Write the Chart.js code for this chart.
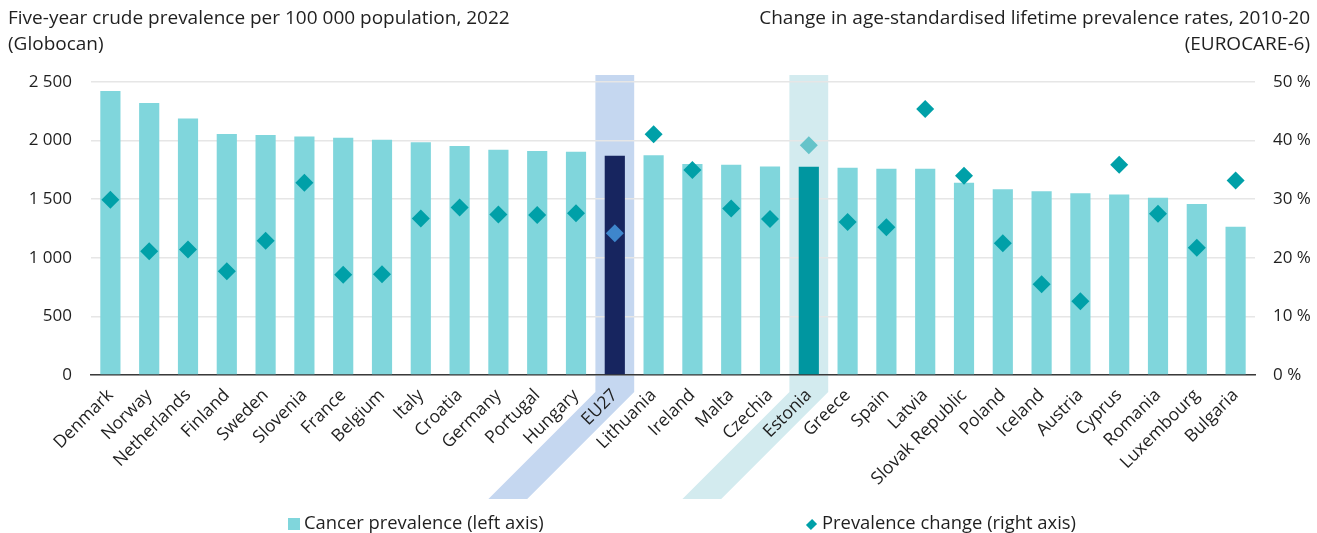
<!DOCTYPE html>
<html>
<head>
<meta charset="utf-8">
<title>Cancer prevalence</title>
<script src="https://cdn.jsdelivr.net/npm/chart.js@4.4.1/dist/chart.umd.min.js"></script>
<style>
  html, body { margin: 0; padding: 0; background: #fff; }
  body { font-family: 'Open Sans', sans-serif; color: #1f1f1f; }
  .wrap { position: relative; width: 1317px; height: 533px; overflow: hidden; }
  #prevChart { position: absolute; left: 0; top: 0; }
  .sub { position: absolute; top: 5px; font-size: 19px; line-height: 25.5px; }
  .sub.left { left: 8px; }
  .sub.right { right: 7px; text-align: right; }
  .legend { position: absolute; top: 510px; font-size: 18.4px; line-height: 24px; }
  .legend .sq { display: inline-block; width: 12px; height: 12px; background: #80d6dc;
    vertical-align: -1px; margin-right: 4px; }
  .legend .dm { display: inline-block; width: 7px; height: 7px; background: #00a0a8;
    transform: rotate(45deg) scaleY(1.25); vertical-align: 1px; margin-right: 7px; margin-left: 1px; }
</style>
</head>
<body>
<div class="wrap">
  <canvas id="prevChart" width="1317" height="533"></canvas>
  <div class="sub left">Five-year crude prevalence per 100 000 population, 2022<br>(Globocan)</div>
  <div class="sub right">Change in age-standardised lifetime prevalence rates, 2010-20<br>(EUROCARE-6)</div>
  <div class="legend" style="left:288px"><span class="sq"></span>Cancer prevalence (left axis)</div>
  <div class="legend" style="left:807px"><span class="dm"></span>Prevalence change (right axis)</div>
</div>
<script>
// Countries, sorted by five-year crude prevalence
var countries = ['Denmark', 'Norway', 'Netherlands', 'Finland', 'Sweden', 'Slovenia', 'France',
  'Belgium', 'Italy', 'Croatia', 'Germany', 'Portugal', 'Hungary', 'EU27', 'Lithuania', 'Ireland',
  'Malta', 'Czechia', 'Estonia', 'Greece', 'Spain', 'Latvia', 'Slovak Republic', 'Poland',
  'Iceland', 'Austria', 'Cyprus', 'Romania', 'Luxembourg', 'Bulgaria'];

// Five-year crude prevalence per 100 000 (left axis)
var prevalence = [2423, 2321, 2189, 2056, 2048, 2036, 2025, 2008, 1985, 1954, 1922, 1911, 1905,
  1871, 1874, 1800, 1794, 1780, 1777, 1769, 1760, 1760, 1641, 1584, 1567, 1550, 1541, 1513,
  1459, 1265];

// Change in lifetime prevalence 2010-20, % (right axis)
var prevChange = [29.9, 21.1, 21.4, 17.7, 22.9, 32.8, 17.1, 17.2, 26.7, 28.6, 27.4, 27.3, 27.6,
  24.2, 41.1, 35.0, 28.4, 26.6, 39.2, 26.1, 25.2, 45.4, 34.0, 22.5, 15.5, 12.6, 35.9, 27.5,
  21.7, 33.2];

var leftTicks = [0, 500, 1000, 1500, 2000, 2500];
var rightTicks = [0, 10, 20, 30, 40, 50];

(function () {
  var BAR = '#80d6dc', DOT = '#00a0a8';
  var special = {
    EU27: { bar: '#17255f', dot: '#3e86cc', band: '#c5d7f0' },
    Estonia: { bar: '#0096a0', dot: '#66c3c9', band: '#d3ebef' }
  };

  function pick(key, fallback) {
    return countries.map(function (c) { return special[c] ? special[c][key] : fallback; });
  }

  function spaced(n) {
    return String(n).replace(/\B(?=(\d{3})+(?!\d))/g, ' ');
  }

  // Highlight strips behind EU27 and Estonia, bending along the slanted labels
  var bandPlugin = {
    id: 'bands',
    beforeDraw: function (chart) {
      var x = chart.scales.x, area = chart.chartArea, ctx = chart.ctx;
      var half = (x.getPixelForValue(1) - x.getPixelForValue(0)) / 2;
      var top = area.top - 7, kink = area.bottom + 17, end = kink + 107;
      ctx.save();
      countries.forEach(function (c, i) {
        if (!special[c]) return;
        var cx = x.getPixelForValue(i);
        var l = cx - half, r = cx + half, d = end - kink;
        ctx.fillStyle = special[c].band;
        ctx.beginPath();
        ctx.moveTo(l, top);
        ctx.lineTo(r, top);
        ctx.lineTo(r, kink);
        ctx.lineTo(r - d, end);
        ctx.lineTo(l - d, end);
        ctx.lineTo(l, kink);
        ctx.closePath();
        ctx.fill();
      });
      ctx.restore();
    }
  };

  Chart.defaults.font.family = "'Open Sans', sans-serif";
  Chart.defaults.font.size = 17;
  Chart.defaults.color = '#1f1f1f';

  new Chart(document.getElementById('prevChart'), {
    type: 'bar',
    data: {
      labels: countries,
      datasets: [{
        type: 'line',
        label: 'Prevalence change (right axis)',
        data: prevChange,
        yAxisID: 'y2',
        showLine: false,
        pointStyle: 'rectRot',
        pointRadius: 9,
        pointBorderWidth: 0,
        pointBackgroundColor: pick('dot', DOT),
        pointBorderColor: pick('dot', DOT),
        order: 0
      }, {
        label: 'Cancer prevalence (left axis)',
        data: prevalence,
        yAxisID: 'y',
        backgroundColor: pick('bar', BAR),
        barPercentage: 0.52,
        categoryPercentage: 1,
        order: 1
      }]
    },
    options: {
      responsive: false,
      animation: false,
      layout: { padding: { top: 82, left: 0, right: 0, bottom: 0 } },
      plugins: { legend: { display: false }, tooltip: { enabled: false } },
      scales: {
        x: {
          grid: { display: false },
          border: { display: true, color: '#3a3a3a', width: 1.5 },
          ticks: { minRotation: 45, maxRotation: 45, padding: 2, autoSkip: false, font: { size: 17.5 } },
          afterFit: function (s) { s.height = 533 - 375; }
        },
        y: {
          position: 'left',
          min: 0, max: 2500,
          afterBuildTicks: function (s) { s.ticks = leftTicks.map(function (v) { return { value: v }; }); },
          ticks: { padding: 19, callback: function (v) { return spaced(v); } },
          grid: { color: '#e6e6e6', lineWidth: 1.5, drawTicks: false },
          border: { display: false },
          afterFit: function (s) { s.width = 91; }
        },
        y2: {
          position: 'right',
          min: 0, max: 50,
          afterBuildTicks: function (s) { s.ticks = rightTicks.map(function (v) { return { value: v }; }); },
          ticks: { padding: 18, callback: function (v) { return v + ' %'; } },
          grid: { display: false, drawTicks: false },
          border: { display: false },
          afterFit: function (s) { s.width = 62; }
        }
      }
    },
    plugins: [bandPlugin]
  });
})();
</script>
</body>
</html>
